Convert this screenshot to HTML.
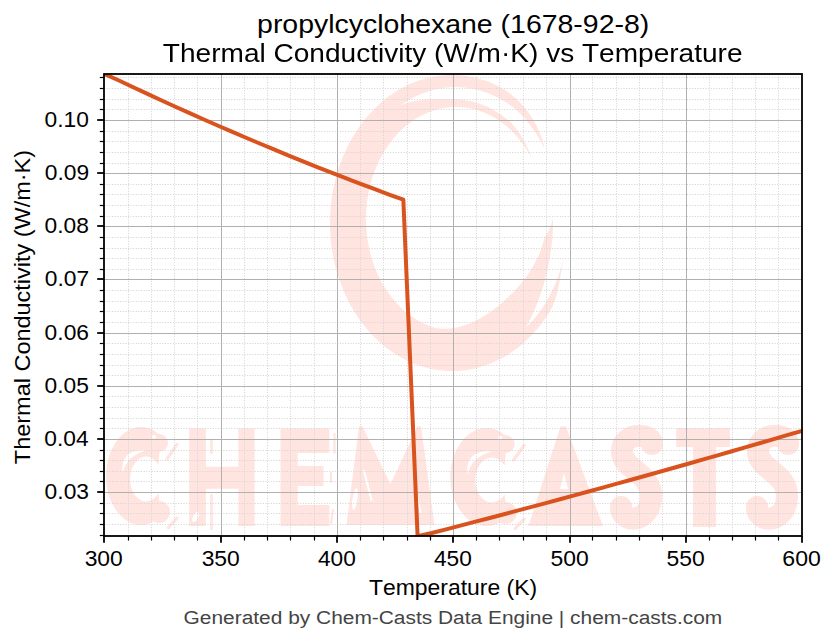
<!DOCTYPE html>
<html><head><meta charset="utf-8"><style>
html,body{margin:0;padding:0;background:#fff;width:836px;height:644px;overflow:hidden}
svg{display:block}
text{font-family:"Liberation Sans",sans-serif;font-kerning:none}
</style></head><body><svg width="836" height="644" viewBox="0 0 836 644" font-family="Liberation Sans, sans-serif"><rect width="836" height="644" fill="#fff"/><defs><filter id="soft" x="-5%" y="-5%" width="110%" height="110%"><feGaussianBlur stdDeviation="0.6"/></filter><clipPath id="ax"><rect x="104" y="74" width="698" height="462"/></clipPath></defs><g clip-path="url(#ax)"><g filter="url(#soft)"><path d="M522.0,344.2 L517.9,347.6 L513.6,350.7 L509.3,353.6 L504.9,356.4 L500.4,358.9 L495.8,361.1 L491.2,363.2 L486.4,365.0 L481.7,366.6 L476.8,367.9 L472.0,369.0 L467.1,369.9 L462.2,370.5 L457.2,370.9 L452.3,371.0 L447.3,370.9 L442.4,370.5 L437.4,369.9 L432.5,369.1 L427.7,368.0 L422.8,366.7 L418.1,365.2 L413.3,363.4 L408.7,361.4 L404.1,359.1 L399.6,356.6 L395.1,353.9 L390.8,351.0 L386.6,347.9 L382.5,344.6 L378.5,341.1 L374.6,337.4 L370.8,333.5 L367.2,329.4 L363.7,325.1 L360.3,320.7 L357.2,316.1 L354.1,311.3 L351.2,306.5 L348.5,301.4 L346.0,296.3 L343.6,291.0 L341.5,285.6 L339.5,280.1 L337.6,274.5 L336.0,268.9 L334.6,263.1 L333.3,257.3 L332.3,251.4 L331.4,245.5 L330.8,239.6 L330.3,233.6 L330.1,227.6 L330.0,221.6 L330.2,215.6 L330.5,209.6 L331.1,203.6 L331.8,197.7 L332.7,191.8 L333.9,185.9 L335.2,180.2 L336.8,174.4 L338.5,168.8 L340.4,163.3 L342.5,157.8 L344.7,152.5 L347.2,147.3 L349.8,142.2 L352.6,137.2 L355.5,132.4 L358.6,127.7 L361.9,123.2 L365.3,118.9 L368.9,114.7 L372.6,110.7 L376.4,106.9 L380.3,103.2 L384.4,99.8 L388.6,96.6 L392.9,93.6 L412.4,121.0 L409.2,123.3 L406.1,125.8 L403.1,128.4 L400.2,131.1 L397.4,134.0 L394.7,137.0 L392.1,140.2 L389.5,143.5 L387.1,146.9 L384.8,150.4 L382.7,154.1 L380.6,157.8 L378.7,161.7 L376.9,165.6 L375.2,169.7 L373.7,173.8 L372.2,178.0 L371.0,182.3 L369.9,186.6 L368.9,191.0 L368.0,195.4 L367.3,199.8 L366.8,204.3 L366.4,208.8 L366.1,213.4 L366.0,217.9 L366.0,222.5 L366.2,227.0 L366.6,231.5 L367.0,236.0 L367.7,240.5 L368.5,245.0 L369.4,249.4 L370.4,253.7 L371.6,258.0 L373.0,262.2 L374.4,266.4 L376.1,270.5 L377.8,274.4 L379.7,278.4 L381.7,282.2 L383.8,285.9 L386.0,289.4 L388.4,292.9 L390.9,296.3 L393.4,299.5 L396.1,302.6 L398.9,305.5 L401.7,308.4 L404.7,311.0 L407.7,313.5 L410.9,315.9 L414.1,318.1 L417.3,320.1 L420.7,322.0 L424.0,323.7 L427.5,325.2 L431.0,326.6 L434.5,327.8 L438.1,328.8 L441.6,329.6 L445.3,330.2 L448.9,330.7 L452.5,330.9 L456.2,331.0 L459.8,330.9 L463.5,330.6 L467.1,330.1 L470.7,329.5 L474.3,328.7 L477.9,327.6 L481.4,326.4 L484.9,325.1 L488.3,323.5 L491.7,321.8 L495.0,319.9 L498.3,317.9 L501.5,315.7 L504.6,313.3 L507.6,310.7 Z M552.9,215.8 L553.0,218.6 L553.0,221.4 L553.0,224.3 L552.9,227.1 L552.8,229.9 L552.7,232.8 L552.5,235.6 L552.3,238.4 L552.0,241.3 L551.7,244.1 L551.4,247.0 L551.0,249.8 L550.6,252.7 L550.2,255.5 L549.7,258.4 L549.2,261.3 L548.6,264.1 L548.1,267.0 L547.4,269.9 L546.8,272.8 L546.0,275.6 L545.3,278.5 L544.5,281.4 L543.7,284.3 L542.8,287.2 L541.9,290.1 L540.9,293.0 L539.9,295.9 L538.9,298.8 L537.8,301.7 L536.6,304.7 L535.4,307.6 L534.2,310.5 L532.9,313.4 L531.6,316.4 L530.2,319.3 L528.7,322.2 L527.2,325.1 L525.7,328.0 L524.1,331.0 L522.4,333.9 L520.7,336.8 L518.9,339.7 L517.0,342.6 L515.1,345.5 L513.1,348.4 L511.1,351.2 L508.9,353.9 L506.4,355.5 L503.8,357.0 L501.2,358.4 L498.6,359.8 L495.9,361.1 L493.3,362.3 L490.6,363.4 L487.9,364.5 L485.1,365.4 L482.4,366.3 L479.6,367.2 L476.8,367.9 L474.0,368.6 L471.2,369.1 L468.4,369.7 L465.6,370.1 L462.8,370.4 L459.9,370.7 L457.1,370.9 L454.2,371.0 L451.4,371.0 L448.5,370.9 L445.7,370.8 L442.9,370.6 L440.0,370.3 L437.2,369.9 L434.4,369.4 L431.5,368.9 L428.7,368.3 L426.0,367.6 L423.2,366.8 L420.4,366.0 L432.7,327.2 L434.8,327.7 L436.9,328.2 L439.0,328.5 L441.1,328.7 L443.2,328.8 L445.3,328.8 L447.5,328.7 L449.6,328.6 L451.7,328.3 L453.8,328.0 L455.9,327.7 L458.0,327.2 L460.0,326.7 L462.1,326.1 L464.1,325.5 L466.1,324.8 L468.1,324.1 L470.0,323.3 L472.0,322.5 L473.9,321.6 L475.8,320.7 L477.6,319.7 L479.5,318.7 L481.3,317.7 L483.1,316.6 L484.9,315.5 L486.6,314.4 L488.3,313.3 L490.0,312.1 L491.7,310.9 L493.4,309.7 L495.0,308.4 L496.7,307.2 L498.3,305.9 L499.9,304.6 L501.4,303.2 L503.0,301.9 L504.6,300.5 L506.1,299.1 L507.6,297.7 L509.1,296.3 L510.6,294.8 L512.1,293.4 L513.6,291.9 L515.0,290.3 L516.4,288.8 L517.9,287.2 L519.3,285.6 L520.7,283.9 L522.0,282.3 L523.4,280.6 L524.8,278.8 L526.1,277.0 L527.4,275.2 L528.6,273.4 L529.9,271.5 L531.1,269.6 L532.3,267.6 L533.5,265.6 L534.6,263.5 L535.7,261.4 L536.8,259.3 L537.8,257.1 L538.8,254.9 L539.7,252.7 L540.6,250.4 L541.4,248.0 L542.2,245.7 L542.9,243.3 L543.6,240.8 L544.5,238.5 L545.6,236.2 L546.9,233.9 L548.2,231.5 L549.4,229.1 L550.6,226.6 L551.5,224.0 L552.3,221.3 L552.8,218.6 L552.9,215.8 Z M563.7,258.2 L563.4,259.6 L563.1,261.0 L562.8,262.4 L562.5,263.9 L562.3,265.3 L562.0,266.7 L561.8,268.2 L561.6,269.6 L561.3,271.1 L561.1,272.5 L560.8,274.0 L560.6,275.5 L560.4,277.0 L560.1,278.5 L559.9,280.0 L559.6,281.5 L559.3,283.0 L559.0,284.5 L558.7,286.0 L558.4,287.5 L558.1,289.0 L557.7,290.5 L557.4,292.0 L557.0,293.5 L556.6,295.0 L556.1,296.5 L555.7,297.9 L555.2,299.4 L554.7,300.8 L554.2,302.2 L553.7,303.6 L553.1,305.0 L552.5,306.4 L551.8,307.7 L551.2,309.0 L550.5,310.3 L549.8,311.5 L549.0,312.7 L548.3,313.9 L547.5,315.1 L546.7,316.3 L545.9,317.5 L545.1,318.7 L544.3,319.8 L543.5,320.9 L542.6,322.1 L541.8,323.2 L540.9,324.3 L540.1,325.4 L539.2,326.5 L538.3,327.6 L537.4,328.7 L536.5,329.7 L535.6,330.8 L534.7,331.8 L533.8,332.8 L532.9,333.8 L531.9,334.8 L531.0,335.8 L530.0,336.8 L529.0,337.8 L528.1,338.7 L527.1,339.6 L526.1,340.6 L525.1,341.5 L524.1,342.4 L523.1,343.3 L522.1,344.2 L521.0,345.0 L520.0,345.9 L519.0,346.7 L517.9,347.5 L516.9,348.4 L515.8,349.2 L514.7,349.9 L513.6,350.7 L512.6,351.5 L511.5,352.2 L510.4,353.0 L509.3,353.7 L504.9,339.4 L505.9,339.0 L507.0,338.6 L508.1,338.1 L509.1,337.7 L510.2,337.2 L511.2,336.7 L512.3,336.3 L513.3,335.8 L514.4,335.2 L515.4,334.7 L516.5,334.2 L517.5,333.6 L518.6,333.0 L519.6,332.4 L520.6,331.8 L521.7,331.2 L522.7,330.6 L523.6,329.7 L524.5,328.9 L525.5,328.0 L526.4,327.1 L527.3,326.2 L528.1,325.3 L529.0,324.4 L529.9,323.5 L530.8,322.6 L531.6,321.6 L532.5,320.7 L533.3,319.7 L534.2,318.7 L535.0,317.7 L535.8,316.7 L536.6,315.7 L537.4,314.7 L538.2,313.6 L539.0,312.6 L539.8,311.5 L540.5,310.5 L541.3,309.4 L542.0,308.3 L542.8,307.2 L543.5,306.1 L544.2,305.0 L544.9,303.9 L545.6,302.7 L546.3,301.6 L547.0,300.4 L547.7,299.3 L548.3,298.1 L549.0,296.9 L549.6,295.7 L550.3,294.5 L550.9,293.3 L551.5,292.1 L552.1,290.9 L552.7,289.7 L553.3,288.4 L553.8,287.2 L554.4,285.9 L554.9,284.7 L555.5,283.4 L556.0,282.1 L556.5,280.9 L557.0,279.6 L557.5,278.3 L558.0,277.0 L558.5,275.7 L559.0,274.4 L559.4,273.1 L559.9,271.7 L560.3,270.4 L560.7,269.1 L561.1,267.7 L561.5,266.4 L561.9,265.1 L562.3,263.7 L562.6,262.3 L563.0,261.0 L563.3,259.6 L563.7,258.2 Z M391.0,94.8 L393.0,93.4 L395.1,92.1 L397.1,90.8 L399.2,89.6 L401.3,88.4 L403.4,87.2 L405.5,86.2 L407.7,85.1 L409.8,84.1 L412.0,83.2 L414.2,82.3 L416.4,81.4 L418.7,80.6 L420.9,79.9 L423.1,79.2 L425.4,78.6 L427.7,78.0 L429.9,77.4 L432.2,77.0 L434.5,76.5 L436.8,76.2 L439.1,75.8 L441.4,75.6 L443.7,75.3 L446.0,75.2 L448.3,75.1 L450.6,75.0 L453.0,75.0 L455.3,75.1 L457.6,75.2 L459.9,75.3 L462.2,75.5 L464.5,75.8 L466.8,76.1 L469.1,76.5 L471.4,76.9 L473.7,77.4 L476.0,77.9 L478.2,78.5 L480.5,79.1 L482.7,79.8 L485.0,80.5 L487.2,81.3 L489.4,82.1 L491.6,83.0 L493.8,83.9 L495.9,84.9 L498.1,86.0 L500.2,87.2 L502.3,88.4 L504.4,89.6 L506.4,91.0 L508.4,92.4 L510.4,93.9 L512.3,95.4 L514.2,97.0 L516.1,98.6 L517.9,100.4 L519.6,102.1 L521.4,103.9 L523.1,105.8 L524.7,107.8 L526.3,109.7 L527.8,111.8 L529.3,113.8 L530.8,116.0 L532.1,118.1 L533.5,120.3 L534.7,122.5 L536.0,124.8 L537.1,127.1 L538.2,129.4 L539.2,131.8 L540.2,134.2 L541.1,136.6 L542.0,139.0 L542.8,141.5 L543.5,144.0 L544.1,146.5 L544.7,148.9 L544.7,148.9 L543.7,146.8 L542.6,144.6 L541.5,142.5 L540.3,140.4 L539.1,138.4 L537.9,136.3 L536.6,134.3 L535.3,132.3 L534.0,130.4 L532.6,128.5 L531.2,126.6 L529.8,124.7 L528.4,122.9 L526.9,121.1 L525.4,119.3 L523.8,117.6 L522.3,115.9 L520.7,114.2 L519.0,112.6 L517.4,111.0 L515.7,109.4 L514.0,107.9 L512.2,106.5 L510.4,105.2 L508.6,104.0 L506.7,102.7 L504.8,101.6 L502.9,100.4 L501.0,99.3 L499.1,98.3 L497.2,97.3 L495.2,96.3 L493.3,95.4 L491.3,94.6 L489.3,93.7 L487.3,93.0 L485.3,92.2 L483.3,91.6 L481.3,90.9 L479.2,90.4 L477.2,89.8 L475.1,89.3 L473.1,88.9 L471.0,88.5 L468.9,88.2 L466.9,87.9 L464.8,87.6 L462.7,87.4 L460.6,87.3 L458.5,87.2 L456.5,87.1 L454.4,87.1 L452.3,87.2 L450.2,87.3 L448.2,87.4 L446.1,87.6 L444.0,87.9 L442.0,88.2 L439.9,88.5 L437.9,88.9 L435.8,89.3 L433.8,89.8 L431.8,90.3 L429.7,90.9 L427.7,91.5 L425.7,92.2 L423.8,92.9 L421.8,93.7 L419.8,94.5 L417.9,95.3 L416.0,96.2 L414.1,97.2 L412.2,98.2 L410.3,99.2 L408.4,100.3 L406.6,101.4 L404.8,102.5 L403.0,103.7 L401.2,105.0 L399.4,106.2 Z M399.4,106.2 L401.3,105.2 L403.3,104.3 L405.4,103.5 L407.5,102.8 L409.6,102.2 L411.7,101.7 L413.9,101.2 L416.0,100.8 L418.1,100.5 L420.2,100.2 L422.3,99.9 L424.4,99.7 L426.5,99.5 L428.6,99.4 L430.6,99.3 L432.7,99.2 L434.7,99.2 L436.7,99.1 L438.7,99.1 L440.6,99.1 L442.6,99.2 L444.5,99.2 L446.4,99.2 L448.3,99.2 L450.2,99.3 L452.1,99.3 L454.0,99.3 L455.8,99.3 L457.7,99.4 L459.5,99.5 L461.4,99.7 L463.2,99.9 L465.1,100.2 L466.9,100.5 L468.7,100.8 L470.6,101.2 L472.4,101.6 L474.2,102.1 L476.0,102.6 L477.8,103.2 L479.6,103.8 L481.3,104.4 L483.1,105.1 L484.9,105.8 L486.6,106.5 L488.3,107.3 L490.0,108.2 L491.7,109.1 L493.4,110.0 L495.1,110.9 L496.7,111.9 L498.4,112.9 L500.0,114.0 L501.6,115.1 L503.2,116.3 L504.7,117.5 L506.3,118.7 L507.9,119.7 L509.4,121.1 L510.8,122.5 L512.2,124.0 L513.5,125.6 L514.8,127.2 L516.1,128.8 L517.3,130.4 L518.5,132.1 L519.7,133.8 L520.8,135.6 L521.9,137.3 L522.9,139.1 L524.0,140.9 L524.9,142.7 L525.9,144.6 L526.8,146.5 L527.7,148.4 L528.5,150.3 L529.3,152.2 L530.1,154.1 L530.8,156.0 L531.5,158.0 L531.5,158.0 L530.5,156.2 L529.6,154.5 L528.6,152.8 L527.5,151.1 L526.5,149.4 L525.4,147.7 L524.3,146.1 L523.2,144.5 L522.0,142.9 L520.9,141.4 L519.7,139.9 L518.5,138.4 L517.2,136.9 L516.0,135.5 L514.7,134.1 L513.4,132.7 L512.0,131.4 L510.7,130.1 L509.3,128.8 L507.9,127.5 L506.5,126.3 L505.1,125.1 L503.7,124.0 L502.2,122.9 L500.7,121.8 L499.3,120.8 L497.7,119.8 L496.2,118.8 L494.7,117.9 L493.1,117.0 L491.6,116.1 L490.0,115.3 L488.4,114.5 L486.8,113.8 L485.2,113.1 L483.6,112.4 L482.0,111.8 L480.3,111.2 L478.7,110.6 L477.0,110.1 L475.3,109.6 L473.7,109.2 L472.0,108.8 L470.3,108.4 L468.6,108.1 L466.9,107.8 L465.2,107.6 L463.5,107.4 L461.8,107.2 L460.1,107.1 L458.4,107.0 L456.7,107.0 L455.0,107.0 L453.3,107.1 L451.6,107.1 L449.9,107.3 L448.2,107.4 L446.5,107.6 L444.8,107.9 L443.1,108.2 L441.4,108.5 L439.7,108.8 L438.0,109.3 L436.4,109.7 L434.7,110.2 L433.0,110.7 L431.4,111.3 L429.8,111.9 L428.1,112.5 L426.5,113.2 L424.9,113.9 L423.3,114.7 L421.7,115.4 L420.1,116.3 L418.6,117.1 L417.0,118.0 L415.5,119.0 L414.0,119.9 L412.5,121.0 L411.0,122.0 Z" fill="#ffe4df"/><g transform="translate(105.40,0.00) scale(1.0,1) translate(-105.4,0)"><path d="M161.1,435.9 A35,49 0 1 0 161.1,516.1 L158.3,493.5 A16,22.5 0 1 1 158.3,464.5 Z" fill="#ffe4df"/><circle cx="159" cy="443" r="9" fill="#ffe4df"/><circle cx="159" cy="512" r="11" fill="#ffe4df"/><path d="M177,444.5 L167,459 M177,518 L168.5,527.5" stroke="#ffe4df" stroke-width="3.2" stroke-linecap="round" fill="none"/><path d="M147,450.5 Q120,448 122.5,474 Q126.5,455 147,450.5Z" fill="#fff"/><circle cx="154" cy="437" r="2" fill="#fff"/></g><g transform="translate(449.60,1.00) scale(1.04,1) translate(-105.4,0)"><path d="M161.1,435.9 A35,49 0 1 0 161.1,516.1 L158.3,493.5 A16,22.5 0 1 1 158.3,464.5 Z" fill="#ffe4df"/><circle cx="159" cy="443" r="9" fill="#ffe4df"/><circle cx="159" cy="512" r="11" fill="#ffe4df"/><path d="M177,444.5 L167,459 M177,518 L168.5,527.5" stroke="#ffe4df" stroke-width="3.2" stroke-linecap="round" fill="none"/><path d="M147,450.5 Q120,448 122.5,474 Q126.5,455 147,450.5Z" fill="#fff"/><circle cx="154" cy="437" r="2" fill="#fff"/></g><path d="M189.2,428.5H205.8V466.8H238.4V428.5H254.6V526H238.4V488.8H205.8V526H189.2Z" fill="#ffe4df"/><path d="M211.5,440L211.5,454 M211.5,494L211.5,530" stroke="#ffe4df" stroke-width="2.5" fill="none"/><ellipse cx="195.5" cy="517" rx="2.6" ry="5.5" transform="rotate(25 195.5 517)" fill="#fff"/><path d="M280.5,428.5H329.3V453H297.7V466H323.5V486H297.7V505H329.3V526H280.5Z" fill="#ffe4df"/><path d="M346.5,525L359,426.5H362.5L390.5,484L417.5,426.5H421L434.5,525Z" fill="#ffe4df"/><ellipse cx="355" cy="499" rx="2.5" ry="11" transform="rotate(8 355 499)" fill="#fff"/><path d="M364,471 L371.5,500 M417,497 L420.5,512" stroke="#fff" stroke-width="2.2" stroke-linecap="round" fill="none"/><path d="M334.5,434 L334.5,453 M331,473 L331,482 M333,510 L331,523" stroke="#ffe4df" stroke-width="2.2" stroke-linecap="round" fill="none"/><path d="M528.5,526L560.5,426.5H566L603,526Z M560,489L564,473L568,489Z" fill="#ffe4df" fill-rule="evenodd"/><path d="M676.3,428H730V447H716V527H693V447H676.3Z" fill="#ffe4df"/><path d="M652,444 C652,432 622,432 622,451 C622,470 651,472 651,496 C651,524 621,524 621,507" fill="none" stroke="#ffe4df" stroke-width="22" stroke-linecap="round"/><path d="M788,444 C788,432 758,432 758,451 C758,470 787,472 787,496 C787,524 757,524 757,507" fill="none" stroke="#ffe4df" stroke-width="22" stroke-linecap="round"/></g></g><g stroke="#d5d5d5" stroke-width="1" stroke-dasharray="1.1 1.55"><line x1="128.5" y1="74" x2="128.5" y2="536"/><line x1="151.5" y1="74" x2="151.5" y2="536"/><line x1="174.5" y1="74" x2="174.5" y2="536"/><line x1="197.5" y1="74" x2="197.5" y2="536"/><line x1="244.5" y1="74" x2="244.5" y2="536"/><line x1="267.5" y1="74" x2="267.5" y2="536"/><line x1="290.5" y1="74" x2="290.5" y2="536"/><line x1="314.5" y1="74" x2="314.5" y2="536"/><line x1="360.5" y1="74" x2="360.5" y2="536"/><line x1="383.5" y1="74" x2="383.5" y2="536"/><line x1="407.5" y1="74" x2="407.5" y2="536"/><line x1="430.5" y1="74" x2="430.5" y2="536"/><line x1="476.5" y1="74" x2="476.5" y2="536"/><line x1="499.5" y1="74" x2="499.5" y2="536"/><line x1="523.5" y1="74" x2="523.5" y2="536"/><line x1="546.5" y1="74" x2="546.5" y2="536"/><line x1="592.5" y1="74" x2="592.5" y2="536"/><line x1="616.5" y1="74" x2="616.5" y2="536"/><line x1="639.5" y1="74" x2="639.5" y2="536"/><line x1="662.5" y1="74" x2="662.5" y2="536"/><line x1="709.5" y1="74" x2="709.5" y2="536"/><line x1="732.5" y1="74" x2="732.5" y2="536"/><line x1="755.5" y1="74" x2="755.5" y2="536"/><line x1="778.5" y1="74" x2="778.5" y2="536"/><line x1="104" y1="535.5" x2="802" y2="535.5"/><line x1="104" y1="524.5" x2="802" y2="524.5"/><line x1="104" y1="513.5" x2="802" y2="513.5"/><line x1="104" y1="503.5" x2="802" y2="503.5"/><line x1="104" y1="481.5" x2="802" y2="481.5"/><line x1="104" y1="471.5" x2="802" y2="471.5"/><line x1="104" y1="460.5" x2="802" y2="460.5"/><line x1="104" y1="450.5" x2="802" y2="450.5"/><line x1="104" y1="428.5" x2="802" y2="428.5"/><line x1="104" y1="418.5" x2="802" y2="418.5"/><line x1="104" y1="407.5" x2="802" y2="407.5"/><line x1="104" y1="396.5" x2="802" y2="396.5"/><line x1="104" y1="375.5" x2="802" y2="375.5"/><line x1="104" y1="365.5" x2="802" y2="365.5"/><line x1="104" y1="354.5" x2="802" y2="354.5"/><line x1="104" y1="343.5" x2="802" y2="343.5"/><line x1="104" y1="322.5" x2="802" y2="322.5"/><line x1="104" y1="311.5" x2="802" y2="311.5"/><line x1="104" y1="301.5" x2="802" y2="301.5"/><line x1="104" y1="290.5" x2="802" y2="290.5"/><line x1="104" y1="269.5" x2="802" y2="269.5"/><line x1="104" y1="258.5" x2="802" y2="258.5"/><line x1="104" y1="248.5" x2="802" y2="248.5"/><line x1="104" y1="237.5" x2="802" y2="237.5"/><line x1="104" y1="216.5" x2="802" y2="216.5"/><line x1="104" y1="205.5" x2="802" y2="205.5"/><line x1="104" y1="194.5" x2="802" y2="194.5"/><line x1="104" y1="184.5" x2="802" y2="184.5"/><line x1="104" y1="163.5" x2="802" y2="163.5"/><line x1="104" y1="152.5" x2="802" y2="152.5"/><line x1="104" y1="141.5" x2="802" y2="141.5"/><line x1="104" y1="131.5" x2="802" y2="131.5"/><line x1="104" y1="109.5" x2="802" y2="109.5"/><line x1="104" y1="99.5" x2="802" y2="99.5"/><line x1="104" y1="88.5" x2="802" y2="88.5"/><line x1="104" y1="77.5" x2="802" y2="77.5"/></g><g stroke="#b0b0b0" stroke-width="1"><line x1="221.5" y1="74" x2="221.5" y2="536"/><line x1="337.5" y1="74" x2="337.5" y2="536"/><line x1="453.5" y1="74" x2="453.5" y2="536"/><line x1="570.5" y1="74" x2="570.5" y2="536"/><line x1="686.5" y1="74" x2="686.5" y2="536"/><line x1="104" y1="120.5" x2="802" y2="120.5"/><line x1="104" y1="173.5" x2="802" y2="173.5"/><line x1="104" y1="226.5" x2="802" y2="226.5"/><line x1="104" y1="279.5" x2="802" y2="279.5"/><line x1="104" y1="333.5" x2="802" y2="333.5"/><line x1="104" y1="386.5" x2="802" y2="386.5"/><line x1="104" y1="439.5" x2="802" y2="439.5"/><line x1="104" y1="492.5" x2="802" y2="492.5"/></g><g clip-path="url(#ax)"><path d="M104.00,73.80 L118.44,80.24 L132.69,86.98 L146.93,93.64 L161.18,100.22 L175.42,106.72 L189.67,113.14 L203.91,119.48 L218.16,125.73 L232.40,131.91 L246.65,138.00 L260.89,144.02 L275.14,149.95 L289.38,155.80 L303.63,161.57 L317.87,167.27 L332.12,172.88 L346.36,178.41 L360.61,183.85 L374.85,189.22 L389.10,194.51 L403.34,199.72 L417.59,536.20 L431.83,532.98 L446.08,529.32 L460.32,525.64 L474.57,521.93 L488.81,518.21 L503.06,514.46 L517.30,510.69 L531.55,506.90 L545.79,503.08 L560.04,499.25 L574.28,495.39 L588.53,491.51 L602.77,487.61 L617.02,483.69 L631.26,479.75 L645.51,475.78 L659.75,471.79 L674.00,467.78 L688.24,463.75 L702.49,459.70 L716.73,455.63 L730.98,451.53 L745.22,447.42 L759.47,443.28 L773.71,439.12 L787.96,434.93 L802.00,430.80" fill="none" stroke="#d9531e" stroke-width="4" stroke-linejoin="round" stroke-linecap="butt"/></g><g stroke="#000"><rect x="104" y="74" width="698" height="462" fill="none" stroke="#000" stroke-width="1.8"/><line x1="104" y1="536" x2="104" y2="542.8" stroke-width="1.8"/><line x1="221" y1="536" x2="221" y2="542.8" stroke-width="1.8"/><line x1="337" y1="536" x2="337" y2="542.8" stroke-width="1.8"/><line x1="453" y1="536" x2="453" y2="542.8" stroke-width="1.8"/><line x1="570" y1="536" x2="570" y2="542.8" stroke-width="1.8"/><line x1="686" y1="536" x2="686" y2="542.8" stroke-width="1.8"/><line x1="802" y1="536" x2="802" y2="542.8" stroke-width="1.8"/><line x1="128.5" y1="536" x2="128.5" y2="540.5" stroke-width="1.2"/><line x1="151.5" y1="536" x2="151.5" y2="540.5" stroke-width="1.2"/><line x1="174.5" y1="536" x2="174.5" y2="540.5" stroke-width="1.2"/><line x1="197.5" y1="536" x2="197.5" y2="540.5" stroke-width="1.2"/><line x1="244.5" y1="536" x2="244.5" y2="540.5" stroke-width="1.2"/><line x1="267.5" y1="536" x2="267.5" y2="540.5" stroke-width="1.2"/><line x1="290.5" y1="536" x2="290.5" y2="540.5" stroke-width="1.2"/><line x1="314.5" y1="536" x2="314.5" y2="540.5" stroke-width="1.2"/><line x1="360.5" y1="536" x2="360.5" y2="540.5" stroke-width="1.2"/><line x1="383.5" y1="536" x2="383.5" y2="540.5" stroke-width="1.2"/><line x1="407.5" y1="536" x2="407.5" y2="540.5" stroke-width="1.2"/><line x1="430.5" y1="536" x2="430.5" y2="540.5" stroke-width="1.2"/><line x1="476.5" y1="536" x2="476.5" y2="540.5" stroke-width="1.2"/><line x1="499.5" y1="536" x2="499.5" y2="540.5" stroke-width="1.2"/><line x1="523.5" y1="536" x2="523.5" y2="540.5" stroke-width="1.2"/><line x1="546.5" y1="536" x2="546.5" y2="540.5" stroke-width="1.2"/><line x1="592.5" y1="536" x2="592.5" y2="540.5" stroke-width="1.2"/><line x1="616.5" y1="536" x2="616.5" y2="540.5" stroke-width="1.2"/><line x1="639.5" y1="536" x2="639.5" y2="540.5" stroke-width="1.2"/><line x1="662.5" y1="536" x2="662.5" y2="540.5" stroke-width="1.2"/><line x1="709.5" y1="536" x2="709.5" y2="540.5" stroke-width="1.2"/><line x1="732.5" y1="536" x2="732.5" y2="540.5" stroke-width="1.2"/><line x1="755.5" y1="536" x2="755.5" y2="540.5" stroke-width="1.2"/><line x1="778.5" y1="536" x2="778.5" y2="540.5" stroke-width="1.2"/><line x1="104" y1="120" x2="97.2" y2="120" stroke-width="1.8"/><line x1="104" y1="173" x2="97.2" y2="173" stroke-width="1.8"/><line x1="104" y1="226" x2="97.2" y2="226" stroke-width="1.8"/><line x1="104" y1="279" x2="97.2" y2="279" stroke-width="1.8"/><line x1="104" y1="333" x2="97.2" y2="333" stroke-width="1.8"/><line x1="104" y1="386" x2="97.2" y2="386" stroke-width="1.8"/><line x1="104" y1="439" x2="97.2" y2="439" stroke-width="1.8"/><line x1="104" y1="492" x2="97.2" y2="492" stroke-width="1.8"/><line x1="104" y1="535.5" x2="99.8" y2="535.5" stroke-width="1.2"/><line x1="104" y1="524.5" x2="99.8" y2="524.5" stroke-width="1.2"/><line x1="104" y1="513.5" x2="99.8" y2="513.5" stroke-width="1.2"/><line x1="104" y1="503.5" x2="99.8" y2="503.5" stroke-width="1.2"/><line x1="104" y1="481.5" x2="99.8" y2="481.5" stroke-width="1.2"/><line x1="104" y1="471.5" x2="99.8" y2="471.5" stroke-width="1.2"/><line x1="104" y1="460.5" x2="99.8" y2="460.5" stroke-width="1.2"/><line x1="104" y1="450.5" x2="99.8" y2="450.5" stroke-width="1.2"/><line x1="104" y1="428.5" x2="99.8" y2="428.5" stroke-width="1.2"/><line x1="104" y1="418.5" x2="99.8" y2="418.5" stroke-width="1.2"/><line x1="104" y1="407.5" x2="99.8" y2="407.5" stroke-width="1.2"/><line x1="104" y1="396.5" x2="99.8" y2="396.5" stroke-width="1.2"/><line x1="104" y1="375.5" x2="99.8" y2="375.5" stroke-width="1.2"/><line x1="104" y1="365.5" x2="99.8" y2="365.5" stroke-width="1.2"/><line x1="104" y1="354.5" x2="99.8" y2="354.5" stroke-width="1.2"/><line x1="104" y1="343.5" x2="99.8" y2="343.5" stroke-width="1.2"/><line x1="104" y1="322.5" x2="99.8" y2="322.5" stroke-width="1.2"/><line x1="104" y1="311.5" x2="99.8" y2="311.5" stroke-width="1.2"/><line x1="104" y1="301.5" x2="99.8" y2="301.5" stroke-width="1.2"/><line x1="104" y1="290.5" x2="99.8" y2="290.5" stroke-width="1.2"/><line x1="104" y1="269.5" x2="99.8" y2="269.5" stroke-width="1.2"/><line x1="104" y1="258.5" x2="99.8" y2="258.5" stroke-width="1.2"/><line x1="104" y1="248.5" x2="99.8" y2="248.5" stroke-width="1.2"/><line x1="104" y1="237.5" x2="99.8" y2="237.5" stroke-width="1.2"/><line x1="104" y1="216.5" x2="99.8" y2="216.5" stroke-width="1.2"/><line x1="104" y1="205.5" x2="99.8" y2="205.5" stroke-width="1.2"/><line x1="104" y1="194.5" x2="99.8" y2="194.5" stroke-width="1.2"/><line x1="104" y1="184.5" x2="99.8" y2="184.5" stroke-width="1.2"/><line x1="104" y1="163.5" x2="99.8" y2="163.5" stroke-width="1.2"/><line x1="104" y1="152.5" x2="99.8" y2="152.5" stroke-width="1.2"/><line x1="104" y1="141.5" x2="99.8" y2="141.5" stroke-width="1.2"/><line x1="104" y1="131.5" x2="99.8" y2="131.5" stroke-width="1.2"/><line x1="104" y1="109.5" x2="99.8" y2="109.5" stroke-width="1.2"/><line x1="104" y1="99.5" x2="99.8" y2="99.5" stroke-width="1.2"/><line x1="104" y1="88.5" x2="99.8" y2="88.5" stroke-width="1.2"/><line x1="104" y1="77.5" x2="99.8" y2="77.5" stroke-width="1.2"/></g><g font-family="Liberation Sans, sans-serif" style="font-kerning:none"><text transform="translate(257.07,33.40) scale(1.1317,1)" font-size="25.15" fill="#000">propylcyclohexane (1678-92-8)</text><text transform="translate(162.87,61.60) scale(1.1158,1)" font-size="25.15" fill="#000">Thermal Conductivity (W/m·K) vs Temperature</text><text transform="translate(368.99,594.50) scale(1.0375,1)" font-size="22.09" fill="#000">Temperature (K)</text><text transform="translate(29.60,464.13) rotate(-90) scale(1.0627,1)" font-size="22.09" fill="#000">Thermal Conductivity (W/m·K)</text><text transform="translate(183.55,624.30) scale(1.1245,1)" font-size="18.60" fill="#444444">Generated by Chem-Casts Data Engine | chem-casts.com</text><text transform="translate(84.63,566.20) scale(1.0779,1)" font-size="21.22" fill="#000">300</text><text transform="translate(201.63,566.20) scale(1.0779,1)" font-size="21.22" fill="#000">350</text><text transform="translate(317.98,566.20) scale(1.0677,1)" font-size="21.22" fill="#000">400</text><text transform="translate(433.98,566.20) scale(1.0677,1)" font-size="21.22" fill="#000">450</text><text transform="translate(550.58,566.20) scale(1.0792,1)" font-size="21.22" fill="#000">500</text><text transform="translate(666.58,566.20) scale(1.0792,1)" font-size="21.22" fill="#000">550</text><text transform="translate(782.33,566.20) scale(1.0866,1)" font-size="21.22" fill="#000">600</text><text transform="translate(44.51,127.30) scale(1.0745,1)" font-size="21.22" fill="#000">0.10</text><text transform="translate(44.70,180.30) scale(1.0745,1)" font-size="21.22" fill="#000">0.09</text><text transform="translate(44.61,233.30) scale(1.0745,1)" font-size="21.22" fill="#000">0.08</text><text transform="translate(44.77,286.30) scale(1.0745,1)" font-size="21.22" fill="#000">0.07</text><text transform="translate(44.62,340.30) scale(1.0745,1)" font-size="21.22" fill="#000">0.06</text><text transform="translate(44.58,393.30) scale(1.0745,1)" font-size="21.22" fill="#000">0.05</text><text transform="translate(44.29,446.30) scale(1.0745,1)" font-size="21.22" fill="#000">0.04</text><text transform="translate(44.62,499.30) scale(1.0745,1)" font-size="21.22" fill="#000">0.03</text></g></svg></body></html>
